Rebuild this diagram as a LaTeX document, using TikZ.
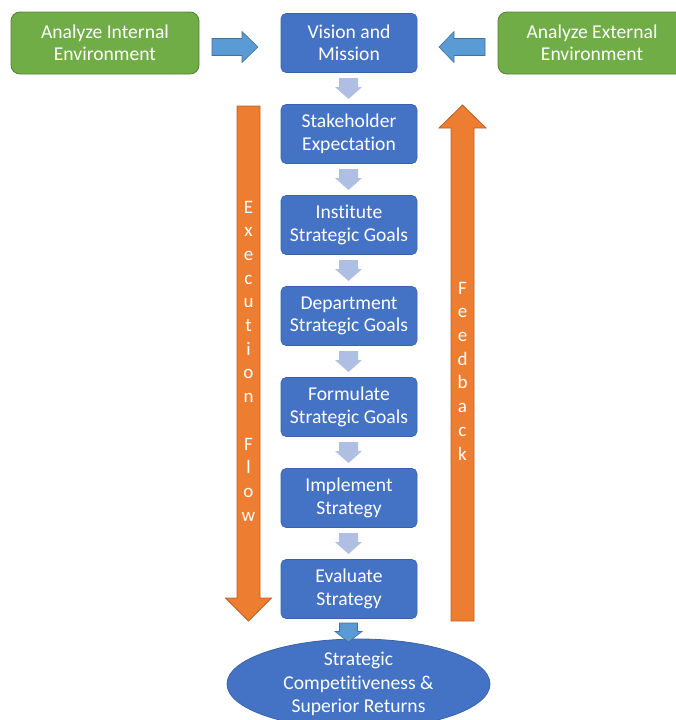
\documentclass[tikz,border=0pt]{standalone}
\usepackage{fontspec}
\setmainfont{Carlito}[Ligatures=NoCommon]
\usetikzlibrary{shapes.geometric}
\definecolor{gboxfill}{HTML}{70AD47}
\definecolor{gboxline}{HTML}{548235}
\definecolor{bboxfill}{HTML}{4472C4}
\definecolor{bboxline}{HTML}{3A62AA}
\definecolor{sarrfill}{HTML}{AFBFE3}
\definecolor{harrfill}{HTML}{5B9BD5}
\definecolor{harrline}{HTML}{41719C}
\definecolor{oarrfill}{HTML}{ED7D31}
\definecolor{oarrline}{HTML}{B9622A}
% vertical block arrow: x, shaft end y, head base y, tip y, half shaft, half head, style
\newcommand\varrowshape[7]{%
  \draw[#7] (#1-#5,#2) -- (#1+#5,#2) -- (#1+#5,#3) -- (#1+#6,#3) -- (#1,#4)
    -- (#1-#6,#3) -- (#1-#5,#3) -- cycle;}
% horizontal block arrow: y, shaft end x, head base x, tip x, half shaft, half head, style
\newcommand\harrowshape[7]{%
  \draw[#7] (#2,#1-#5) -- (#2,#1+#5) -- (#3,#1+#5) -- (#3,#1+#6) -- (#4,#1)
    -- (#3,#1-#6) -- (#3,#1-#5) -- cycle;}
\tikzset{
  txt/.style={font=\fontsize{19.6}{22.5}\selectfont, text=white, align=center},
  gbox/.style={txt, rectangle, rounded corners=9pt, fill=gboxfill, draw=gboxline,
    line width=0.8pt, minimum width=188pt, minimum height=62pt, inner sep=0pt},
  bbox/.style={txt, rectangle, rounded corners=5pt, fill=bboxfill, draw=bboxline,
    line width=0.6pt, minimum width=136pt, minimum height=59pt, inner sep=0pt},
  goalell/.style={font=\fontsize{19.6}{23.5}\selectfont, text=white, align=center,
    ellipse, fill=bboxfill, draw=bboxline, line width=0.8pt,
    minimum width=263pt, minimum height=82pt, inner sep=0pt},
  sarr/.style={fill=sarrfill, draw=none},
  harr/.style={fill=harrfill, draw=harrline, line width=0.6pt},
  oarr/.style={fill=oarrfill, draw=oarrline, line width=0.8pt},
  vtxt/.style={font=\fontsize{19}{23.7}\selectfont, text=white, align=center, inner sep=0pt}
}
\begin{document}
\begin{tikzpicture}[x=1pt,y=-1pt]
\useasboundingbox (0,0) rectangle (676,720);
\clip (0,0) rectangle (676,720);

% green boxes
\node[gbox] (intenv) at (105,43) {Analyze Internal\\Environment};
\node[gbox] (extenv) at (592,43) {Analyze External\\Environment};

% blue column
\node[bbox] (vision) at (349,43) {Vision and\\Mission};
\node[bbox] (stake) at (349,134) {Stakeholder\\Expectation};
\node[bbox] (inst) at (349,225) {Institute\\Strategic Goals};
\node[bbox] (dept) at (349,316) {Department\\Strategic Goals};
\node[bbox] (form) at (349,407) {Formulate\\Strategic Goals};
\node[bbox] (impl) at (349,498) {Implement\\Strategy};
\node[bbox] (eval) at (349,589) {Evaluate\\Strategy};
\node[goalell] (goal) at (358.5,684) {Strategic\\Competitiveness \&\\Superior Returns};

% side arrows into Vision
\harrowshape{47}{212}{242}{258}{8.5}{15.5}{harr}
\harrowshape{47}{485}{454}{439}{8.5}{15.5}{harr}

% small arrows between boxes
\foreach \yt in {78,169,260,351,442,533}{
  \varrowshape{348.5}{\yt}{\yt+9}{\yt+21}{9.5}{13.5}{sarr}
}

% arrow to ellipse
\varrowshape{348.5}{623}{631.5}{642}{9}{13.5}{harr}

% orange arrows
\varrowshape{248.5}{106}{598}{621}{11.5}{23}{oarr}
\varrowshape{462.5}{621}{128}{105}{11.5}{23.5}{oarr}

\node[vtxt] (exectxt) at (248.5,361) {E\\x\\e\\c\\u\\t\\i\\o\\n\\\strut\\F\\l\\o\\w};
\node[vtxt] (feedtxt) at (462.5,371) {F\\e\\e\\d\\b\\a\\c\\k};
\end{tikzpicture}
\end{document}
